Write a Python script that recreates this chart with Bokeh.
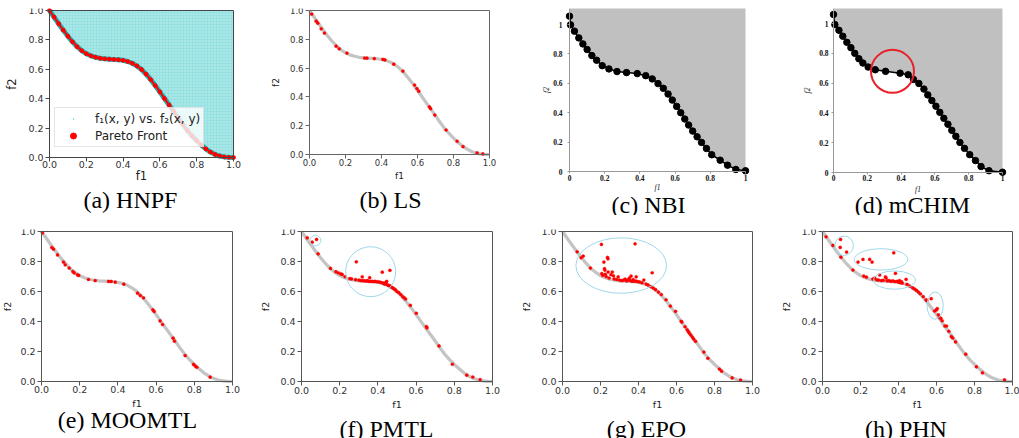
from bokeh.plotting import figure
from bokeh.layouts import column, row
from bokeh.models import (Range1d, PrintfTickFormatter, Legend, LegendItem, LinearAxis,
                          FixedTicker, Label)
from bokeh.embed import file_html
from bokeh.resources import INLINE

# ---------------- data ----------------
CURVE_X = [0.000, 0.025, 0.050, 0.075, 0.100, 0.125, 0.150, 0.175, 0.200, 0.225,
           0.250, 0.275, 0.300, 0.325, 0.350, 0.375, 0.400, 0.425, 0.450, 0.475,
           0.500, 0.525, 0.550, 0.575, 0.600, 0.625, 0.650, 0.675, 0.700, 0.725,
           0.750, 0.775, 0.800, 0.825, 0.850, 0.875, 0.900, 0.925, 0.950, 0.975, 1.000]
CURVE_Y = [1.000, 0.955, 0.910, 0.866, 0.825, 0.787, 0.754, 0.727, 0.706, 0.692,
           0.682, 0.675, 0.671, 0.669, 0.667, 0.665, 0.661, 0.653, 0.641, 0.623,
           0.599, 0.567, 0.530, 0.489, 0.446, 0.401, 0.357, 0.313, 0.270, 0.224,
           0.182, 0.146, 0.114, 0.085, 0.058, 0.037, 0.021, 0.010, 0.004, 0.001, 0.000]

LS_X = [0.012, 0.037, 0.046, 0.065, 0.083, 0.148, 0.165, 0.208, 0.306, 0.319, 0.360,
        0.408, 0.419, 0.468, 0.519, 0.584, 0.597, 0.607, 0.666, 0.673, 0.696, 0.759,
        0.820, 0.853, 0.931, 0.963]
LS_Y = [0.975, 0.926, 0.912, 0.873, 0.843, 0.752, 0.734, 0.704, 0.670, 0.669, 0.666,
        0.660, 0.657, 0.627, 0.579, 0.482, 0.458, 0.440, 0.331, 0.318, 0.274, 0.170,
        0.092, 0.055, 0.011, 0.004]

NBI_X = [0.000, 0.006, 0.028, 0.053, 0.076, 0.100, 0.127, 0.154, 0.186, 0.224, 0.270,
         0.324, 0.385, 0.433, 0.470, 0.503, 0.533, 0.560, 0.584, 0.609, 0.632, 0.655,
         0.677, 0.700, 0.725, 0.750, 0.778, 0.808, 0.856, 0.898, 0.945, 1.000]
NBI_Y = [1.057, 0.998, 0.955, 0.909, 0.868, 0.830, 0.789, 0.757, 0.720, 0.698, 0.680,
         0.673, 0.666, 0.652, 0.630, 0.598, 0.566, 0.527, 0.486, 0.443, 0.400, 0.357,
         0.316, 0.275, 0.236, 0.198, 0.157, 0.114, 0.077, 0.043, 0.014, 0.005]

MCHIM_X = [0.000, 0.008, 0.032, 0.055, 0.079, 0.103, 0.126, 0.150, 0.174, 0.205, 0.247,
           0.308, 0.394, 0.442, 0.473, 0.505, 0.535, 0.558, 0.582, 0.606, 0.629, 0.653,
           0.677, 0.700, 0.724, 0.748, 0.775, 0.806, 0.840, 0.873, 0.920, 1.000]
MCHIM_Y = [1.061, 0.993, 0.955, 0.915, 0.874, 0.838, 0.800, 0.764, 0.735, 0.708, 0.690,
           0.679, 0.667, 0.656, 0.625, 0.598, 0.560, 0.521, 0.483, 0.445, 0.404, 0.364,
           0.324, 0.283, 0.243, 0.202, 0.162, 0.120, 0.080, 0.040, 0.012, 0.002]

MOOMTL_X = [0.005, 0.054, 0.063, 0.084, 0.115, 0.124, 0.145, 0.164, 0.171, 0.188, 0.195,
            0.246, 0.281, 0.351, 0.365, 0.386, 0.431, 0.503, 0.517, 0.534, 0.583, 0.590,
            0.621, 0.634, 0.689, 0.696, 0.752, 0.796, 0.805, 0.813, 0.883]
MOOMTL_Y = [0.991, 0.893, 0.882, 0.844, 0.796, 0.778, 0.756, 0.733, 0.724, 0.711, 0.707,
            0.680, 0.673, 0.667, 0.667, 0.662, 0.649, 0.589, 0.573, 0.558, 0.478, 0.467,
            0.404, 0.380, 0.289, 0.269, 0.173, 0.114, 0.103, 0.095, 0.029]

PMTL_X = [0.030, 0.056, 0.079, 0.087, 0.152, 0.180, 0.192, 0.205, 0.213, 0.228, 0.253,
          0.262, 0.287, 0.283, 0.300, 0.310, 0.318, 0.322, 0.330, 0.338, 0.345, 0.352,
          0.357, 0.362, 0.370, 0.378, 0.386, 0.395, 0.405, 0.415, 0.423, 0.425, 0.432,
          0.438, 0.440, 0.446, 0.450, 0.455, 0.463, 0.462, 0.470, 0.478, 0.485, 0.492,
          0.500, 0.510, 0.520, 0.530, 0.538, 0.545, 0.570, 0.601, 0.654, 0.657, 0.720,
          0.790, 0.865, 0.897, 0.935]
PMTL_Y = [0.958, 0.929, 0.947, 0.851, 0.754, 0.732, 0.725, 0.718, 0.714, 0.699, 0.686,
          0.684, 0.798, 0.679, 0.676, 0.673, 0.698, 0.672, 0.671, 0.670, 0.672, 0.668,
          0.692, 0.667, 0.668, 0.666, 0.668, 0.665, 0.664, 0.661, 0.729, 0.657, 0.652,
          0.650, 0.660, 0.667, 0.645, 0.640, 0.741, 0.640, 0.630, 0.624, 0.618, 0.611,
          0.600, 0.592, 0.580, 0.566, 0.558, 0.550, 0.508, 0.455, 0.366, 0.358, 0.237,
          0.115, 0.042, 0.030, 0.013]

EPO_X = [0.077, 0.098, 0.109, 0.147, 0.205, 0.207, 0.212, 0.218, 0.221, 0.223, 0.225,
         0.230, 0.237, 0.239, 0.240, 0.245, 0.255, 0.262, 0.268, 0.272, 0.285, 0.293,
         0.300, 0.312, 0.322, 0.330, 0.338, 0.345, 0.352, 0.358, 0.361, 0.366, 0.372,
         0.378, 0.382, 0.386, 0.388, 0.395, 0.405, 0.418, 0.428, 0.440, 0.450, 0.465,
         0.472, 0.478, 0.490, 0.505, 0.520, 0.545, 0.568, 0.595, 0.625, 0.628, 0.645,
         0.656, 0.662, 0.667, 0.675, 0.683, 0.690, 0.700, 0.744, 0.765, 0.826, 0.837,
         0.893, 0.937]
EPO_Y = [0.865, 0.825, 0.836, 0.756, 0.914, 0.720, 0.708, 0.796, 0.752, 0.743, 0.715,
         0.700, 0.827, 0.818, 0.730, 0.690, 0.712, 0.730, 0.705, 0.684, 0.680, 0.698,
         0.676, 0.673, 0.676, 0.682, 0.670, 0.678, 0.690, 0.672, 0.703, 0.668, 0.680,
         0.668, 0.918, 0.670, 0.698, 0.666, 0.664, 0.658, 0.676, 0.650, 0.644, 0.632,
         0.725, 0.623, 0.612, 0.596, 0.580, 0.545, 0.503, 0.468, 0.401, 0.396, 0.365,
         0.345, 0.333, 0.323, 0.310, 0.296, 0.283, 0.268, 0.196, 0.155, 0.083, 0.069,
         0.024, 0.010]

PHN_X = [0.019, 0.055, 0.093, 0.095, 0.097, 0.127, 0.160, 0.187, 0.213, 0.217, 0.231,
         0.248, 0.261, 0.265, 0.275, 0.285, 0.295, 0.301, 0.310, 0.320, 0.331, 0.335,
         0.340, 0.350, 0.360, 0.370, 0.375, 0.380, 0.384, 0.392, 0.400, 0.405, 0.410,
         0.415, 0.420, 0.440, 0.445, 0.460, 0.475, 0.485, 0.495, 0.505, 0.515, 0.530,
         0.545, 0.549, 0.572, 0.590, 0.599, 0.604, 0.610, 0.616, 0.623, 0.630, 0.644,
         0.653, 0.665, 0.678, 0.685, 0.700, 0.754, 0.810, 0.842, 0.958]
PHN_Y = [0.965, 0.907, 0.894, 0.947, 0.829, 0.863, 0.743, 0.796, 0.814, 0.703, 0.696,
         0.814, 0.796, 0.683, 0.690, 0.678, 0.676, 0.710, 0.673, 0.675, 0.698, 0.690,
         0.671, 0.672, 0.668, 0.671, 0.858, 0.666, 0.721, 0.668, 0.662, 0.672, 0.659,
         0.666, 0.656, 0.681, 0.648, 0.636, 0.624, 0.616, 0.607, 0.596, 0.585, 0.566,
         0.545, 0.540, 0.552, 0.470, 0.477, 0.486, 0.445, 0.426, 0.421, 0.405, 0.370,
         0.370, 0.335, 0.299, 0.290, 0.264, 0.182, 0.098, 0.058, 0.011]

TICKS = [0.0, 0.2, 0.4, 0.6, 0.8, 1.0]
CAPTIONS = ["(a) HNPF", "(b) LS", "(c) NBI", "(d) mCHIM",
            "(e) MOOMTL", "(f) PMTL", "(g) EPO", "(h) PHN"]

# highlighted regions (annotations)
MCHIM_MARK = (0.349, 0.679)
PMTL_RINGS = dict(x=[0.362, 0.073], y=[0.732, 0.940], w=[0.262, 0.056], h=[0.333, 0.071])
EPO_RINGS = dict(x=[0.309], y=[0.773], w=[0.477], h=[0.370])
PHN_RINGS = dict(x=[0.114, 0.308, 0.379, 0.593], y=[0.905, 0.814, 0.676, 0.506],
                 w=[0.097, 0.282, 0.220, 0.085], h=[0.129, 0.142, 0.122, 0.182])

SERIF = "Liberation Serif"
SANS = "DejaVu Sans"


def add_caption(p, text, x_data, mid_px):
    p.add_layout(Label(x=x_data, y=mid_px, x_units="data", y_units="screen",
                       text=text, text_align="center", text_baseline="middle",
                       text_font=SERIF, text_font_size="24px", text_color="black"))


def spine(p, side, outline):
    ax = LinearAxis(fixed_location=1.0, bounds=(0, 1), ticker=FixedTicker(ticks=[]),
                    axis_line_color=outline, axis_line_width=1,
                    major_tick_out=0, major_tick_in=0, minor_tick_out=0, minor_tick_in=0)
    p.add_layout(ax, side)


def make_frame(width, ax_left, plot_w, top, ytop, plot_h, below, pad_top):
    """Whole figure is the frame; axes sit inside it at x=0 / y=0."""
    k = plot_h / ytop
    p = figure(frame_width=width, frame_height=plot_h + below + pad_top,
               min_border_left=0, min_border_right=0,
               min_border_top=top - pad_top, min_border_bottom=0,
               x_range=Range1d(-ax_left / plot_w, (width - ax_left) / plot_w),
               y_range=Range1d(-below / k, ytop + pad_top / k),
               output_backend="svg", toolbar_location=None)
    p.grid.visible = False
    p.outline_line_color = None
    p.background_fill_color = "white"
    p.border_fill_color = "white"
    xa, ya = p.xaxis[0], p.yaxis[0]
    xa.fixed_location = 0.0
    ya.fixed_location = 0.0
    xa.bounds = (0, 1)
    ya.bounds = (0, ytop)
    for ax in (xa, ya):
        ax.ticker = TICKS
        ax.formatter = PrintfTickFormatter(format="%.1f")
        ax.major_tick_in = 0
        ax.minor_tick_out = 0
        ax.minor_tick_in = 0
    xa.axis_label = "f1"
    ya.axis_label = "f2"
    return p, xa, ya


def mpl_panel(width, ax_left, plot_w, top, plot_h, below, tick_px, label_px,
              xls, xas, yas, outline="#555555"):
    p, xa, ya = make_frame(width, ax_left, plot_w, top, 1.0, plot_h, below, 2)
    for ax in (xa, ya):
        ax.axis_line_color = outline
        ax.major_tick_line_color = outline
        ax.major_tick_out = 4
        ax.major_label_text_font = SANS
        ax.major_label_text_font_size = tick_px
        ax.major_label_text_color = "#333333"
        ax.axis_label_text_font = SANS
        ax.axis_label_text_font_size = label_px
        ax.axis_label_text_font_style = "normal"
        ax.axis_label_text_color = "#222222"
    xa.major_label_standoff = xls
    xa.axis_label_standoff = xas
    ya.major_label_standoff = 2
    ya.axis_label_standoff = yas
    spine(p, "above", outline)
    spine(p, "right", outline)
    return p


def serif_panel(width, ax_left, plot_w, top, ytop, plot_h, below, xls, xas, yls, yas):
    p, xa, ya = make_frame(width, ax_left, plot_w, top, ytop, plot_h, below, 0)
    for ax in (xa, ya):
        ax.major_label_overrides = {0: "0", 1: "1"}
        ax.axis_line_color = "#999999"
        ax.major_tick_line_color = "#999999"
        ax.major_tick_out = 2
        ax.major_label_text_font = SERIF
        ax.major_label_text_font_size = "7.5px"
        ax.major_label_text_font_style = "bold"
        ax.major_label_text_color = "#111111"
        ax.axis_label_text_font = SERIF
        ax.axis_label_text_font_size = "7.5px"
        ax.axis_label_text_font_style = "italic"
        ax.axis_label_text_color = "#111111"
    xa.major_label_standoff = xls
    xa.axis_label_standoff = xas
    ya.major_label_standoff = yls
    ya.axis_label_standoff = yas
    return p


def front_panel(p, xs, ys):
    p.line(CURVE_X, CURVE_Y, line_color="#c4c4c4", line_width=3.2)
    p.scatter(xs, ys, size=3.2, fill_color="red", line_color="red", line_width=0.3)


# ---------- (a) HNPF ----------
pa = mpl_panel(250, 49, 184, 10, 147, 58, "9.5px", "11.5px", -1, -2, 6, outline="#444444")
pa.varea(x=CURVE_X, y1=CURVE_Y, y2=1.0, fill_color="#2ec4c4", fill_alpha=0.5,
         hatch_pattern="dot", hatch_color="white", hatch_alpha=0.55,
         hatch_scale=3, hatch_weight=1)
r_cloud = pa.scatter(CURVE_X, CURVE_Y, marker="dot", size=3, color="#4fcfcf")
pa.line(CURVE_X, CURVE_Y, line_color="#18b0b0", line_width=5)
pa.line(CURVE_X, CURVE_Y, line_color="red", line_width=2)
r_front = pa.scatter(CURVE_X, CURVE_Y, size=3.8, color="red")
leg = Legend(items=[LegendItem(label="f\u2081(x, y) vs. f\u2082(x, y)", renderers=[r_cloud]),
                    LegendItem(label="Pareto Front", renderers=[r_front])],
             location=(54, 68), margin=0, padding=3, spacing=2,
             glyph_width=30, glyph_height=15, label_height=15, label_standoff=7,
             label_text_font=SANS, label_text_font_size="12px",
             label_text_color="#222222",
             background_fill_color="white", background_fill_alpha=0.8,
             border_line_color="#cccccc", border_line_width=1)
pa.add_layout(leg)
add_caption(pa, CAPTIONS[0], 0.440, 16)

# ---------- (b) LS ----------
pb = mpl_panel(260, 59, 180, 10, 144, 61, "8.5px", "9px", 0, 2, 6, outline="#666666")
front_panel(pb, LS_X, LS_Y)
add_caption(pb, CAPTIONS[1], 0.450, 16)

# ---------- (c) NBI ----------
pc = serif_panel(255, 59, 176, 3, 1.109, 163, 49, 1, -1, 5, -1)
pc.varea(x=NBI_X, y1=NBI_Y, y2=1.2, fill_color="#c0c0c0")
pc.line(NBI_X, NBI_Y, line_color="black", line_width=1.5)
pc.scatter(NBI_X, NBI_Y, size=6.5, color="black")
add_caption(pc, CAPTIONS[2], 0.449, 16)

# ---------- (d) mCHIM ----------
pd_ = serif_panel(254, 68, 169, 3, 1.101, 164, 48, 0, 1, 3, 4)
pd_.varea(x=MCHIM_X, y1=MCHIM_Y, y2=1.2, fill_color="#c0c0c0")
pd_.line(MCHIM_X, MCHIM_Y, line_color="black", line_width=1.5)
pd_.scatter(MCHIM_X, MCHIM_Y, size=6.5, color="black")
pd_.scatter([MCHIM_MARK[0]], [MCHIM_MARK[1]], size=43, fill_color=None,
            line_color="#e8202a", line_width=2)
add_caption(pd_, CAPTIONS[3], 0.467, 16)

# ---------- (e) MOOMTL ----------
pe = mpl_panel(250, 41, 191, 16, 150, 57, "9.5px", "9.5px", 0, 2, 4)
front_panel(pe, MOOMTL_X, MOOMTL_Y)
add_caption(pe, CAPTIONS[4], 0.450, 19)

# ---------- (f) PMTL ----------
pf = mpl_panel(260, 51, 191, 12, 150, 61, "9.5px", "9.5px", 1, 2, 6)
front_panel(pf, PMTL_X, PMTL_Y)
pf.ellipse(x=PMTL_RINGS["x"], y=PMTL_RINGS["y"], width=PMTL_RINGS["w"],
           height=PMTL_RINGS["h"], fill_color=None, line_color="#9fd8ea", line_width=1)
add_caption(pf, CAPTIONS[5], 0.445, 14)

# ---------- (g) EPO ----------
pg = mpl_panel(250, 52, 190, 12, 150, 61, "9.5px", "9.5px", 1, 2, 6)
front_panel(pg, EPO_X, EPO_Y)
pg.ellipse(x=EPO_RINGS["x"], y=EPO_RINGS["y"], width=EPO_RINGS["w"],
           height=EPO_RINGS["h"], fill_color=None, line_color="#9fd8ea", line_width=1)
add_caption(pg, CAPTIONS[6], 0.442, 14)

# ---------- (h) PHN ----------
ph = mpl_panel(259, 62, 190, 12, 150, 61, "9.5px", "9.5px", 1, 2, 6)
front_panel(ph, PHN_X, PHN_Y)
ph.ellipse(x=PHN_RINGS["x"], y=PHN_RINGS["y"], width=PHN_RINGS["w"],
           height=PHN_RINGS["h"], fill_color=None, line_color="#9fd8ea", line_width=1)
add_caption(ph, CAPTIONS[7], 0.439, 14)

layout = column(row(pa, pb, pc, pd_), row(pe, pf, pg, ph))
open("out.html", "w").write(file_html(layout, INLINE))
